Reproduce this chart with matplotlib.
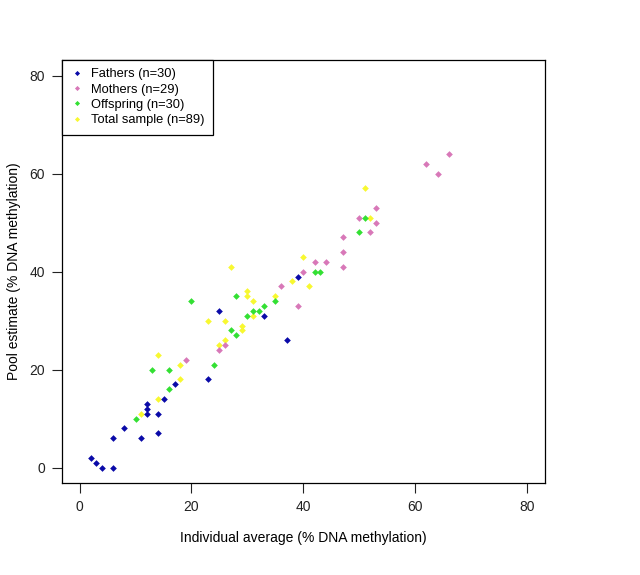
import matplotlib
matplotlib.use('Agg')
import matplotlib.pyplot as plt

plt.rcParams['font.family'] = ['Liberation Sans', 'DejaVu Sans']

# individual average (x) vs pool estimate (y)
fathers_x = [2, 3, 4, 6, 6, 8, 11, 14, 12, 12, 12, 14, 15, 17, 23, 25, 33, 37, 39]
fathers_y = [2, 1, 0, 0, 6, 8, 6, 7, 13, 12, 11, 11, 14, 17, 18, 32, 31, 26, 39]

mothers_x = [19, 25, 26, 36, 39, 40, 42, 44, 47, 47, 47, 50, 52, 53, 53, 62, 64, 66]
mothers_y = [22, 24, 25, 37, 33, 40, 42, 42, 47, 44, 41, 51, 48, 50, 53, 62, 60, 64]

offspring_x = [10, 13, 16, 16, 24, 27, 28, 20, 28, 35, 33, 31, 32, 30, 42, 43, 50, 51]
offspring_y = [10, 20, 20, 16, 21, 28, 27, 34, 35, 34, 33, 32, 32, 31, 40, 40, 48, 51]

total_x = [11, 14, 18, 18, 14, 25, 26, 29, 29, 27, 40, 38, 41, 30, 30, 31, 35, 23, 26, 31, 51, 52]
total_y = [11, 23, 21, 18, 14, 25, 26, 28, 29, 41, 43, 38, 37, 36, 35, 34, 35, 30, 30, 31, 57, 51]

labels = ['Fathers (n=30)', 'Mothers (n=29)', 'Offspring (n=30)', 'Total sample (n=89)']
colors = ['#0a0aa8', '#d878b8', '#33e033', '#f8f830']

fig = plt.figure(figsize=(6.4, 5.75), dpi=100)
ax = fig.add_axes([0.0964, 0.1595, 0.7552, 0.7362])

ms = 3.4
ax.plot(total_x, total_y, 'D', color=colors[3], ms=ms, mec='none', zorder=2)
ax.plot(fathers_x, fathers_y, 'D', color=colors[0], ms=ms, mec='none', zorder=3)
ax.plot(mothers_x, mothers_y, 'D', color=colors[1], ms=ms, mec='none', zorder=3)
ax.plot(offspring_x, offspring_y, 'D', color=colors[2], ms=ms, mec='none', zorder=3)

ax.set_xlim(-3.2, 83.2)
ax.set_ylim(-3.2, 83.2)
ax.set_xticks([0, 20, 40, 60, 80])
ax.set_yticks([0, 20, 40, 60, 80])
ax.tick_params(direction='out', length=7, width=0.8, labelsize=10, colors='#222222', pad=5)
for s in ax.spines.values():
    s.set_linewidth(0.9)

ax.set_xlabel('Individual average (% DNA methylation)', fontsize=10, labelpad=12)
ax.set_ylabel('Pool estimate (% DNA methylation)', fontsize=10, labelpad=6)

handles = [plt.Line2D([], [], marker='D', ls='none', color=c, ms=2.6, mec='none') for c in colors]
leg = ax.legend(handles, labels, loc='upper left', fontsize=9.3, frameon=True, fancybox=False,
                borderaxespad=0, labelspacing=0.25, handlelength=1.1, handletextpad=0.55,
                borderpad=0.65, framealpha=1)
leg.get_frame().set_edgecolor('black')
leg.get_frame().set_linewidth(0.9)

fig.savefig('out.png', dpi=100)
